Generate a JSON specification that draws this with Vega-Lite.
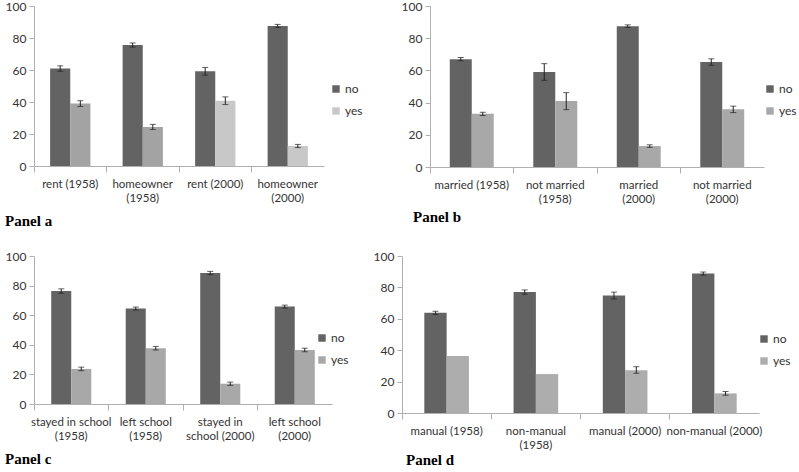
{
  "$schema": "https://vega.github.io/schema/vega-lite/v6.json",
  "padding": {"left": 5, "top": 0, "right": 0, "bottom": 0},
  "background": "white",
  "config": {
    "view": {"stroke": null},
    "font": "Lato",
    "axis": {"labelFont": "Lato", "labelFontSize": 11.5, "labelColor": "#333333", "domainColor": "#b0b0b0", "tickColor": "#b0b0b0", "grid": false, "title": null},
    "axisX": {"bandPosition": 0, "tickSize": 6, "labelAngle": 0, "labelPadding": 6, "labelLineHeight": 14, "labelLimit": 200},
    "axisY": {"values": [0, 20, 40, 60, 80, 100], "tickSize": 5, "labelPadding": 3, "labelFontSize": 12},
    "legend": {"labelFont": "Lato", "labelFontSize": 12, "labelColor": "#333333", "symbolType": "square", "symbolSize": 55, "symbolStrokeWidth": 0, "rowPadding": 10, "labelOffset": 3, "title": null, "orient": "none"},
    "title": {"font": "Liberation Serif", "fontSize": 15, "fontWeight": "bold", "color": "#000000", "orient": "bottom", "anchor": "start", "frame": "bounds"}
  },
  "datasets": {
    "a": [
      {"cat": "rent (1958)", "ans": "no", "v": 61, "lo": 59.2, "hi": 62.6},
      {"cat": "rent (1958)", "ans": "yes", "v": 39, "lo": 37.2, "hi": 40.8},
      {"cat": "homeowner (1958)", "ans": "no", "v": 75.6, "lo": 74.3, "hi": 76.9},
      {"cat": "homeowner (1958)", "ans": "yes", "v": 24.4, "lo": 22.8, "hi": 26},
      {"cat": "rent (2000)", "ans": "no", "v": 59.2, "lo": 56.8, "hi": 61.6},
      {"cat": "rent (2000)", "ans": "yes", "v": 40.8, "lo": 38.4, "hi": 43.2},
      {"cat": "homeowner (2000)", "ans": "no", "v": 87.5, "lo": 86.5, "hi": 88.5},
      {"cat": "homeowner (2000)", "ans": "yes", "v": 12.5, "lo": 11.5, "hi": 13.5}
    ],
    "b": [
      {"cat": "married (1958)", "ans": "no", "v": 67, "lo": 66, "hi": 68},
      {"cat": "married (1958)", "ans": "yes", "v": 33, "lo": 32, "hi": 34},
      {"cat": "not married (1958)", "ans": "no", "v": 59, "lo": 53.8, "hi": 64.2},
      {"cat": "not married (1958)", "ans": "yes", "v": 41, "lo": 35.6, "hi": 46.2},
      {"cat": "married (2000)", "ans": "no", "v": 87.5, "lo": 86.7, "hi": 88.3},
      {"cat": "married (2000)", "ans": "yes", "v": 13, "lo": 12.2, "hi": 13.8},
      {"cat": "not married (2000)", "ans": "no", "v": 65.2, "lo": 63.2, "hi": 67.2},
      {"cat": "not married (2000)", "ans": "yes", "v": 35.8, "lo": 33.8, "hi": 37.8}
    ],
    "c": [
      {"cat": "stayed in school (1958)", "ans": "no", "v": 76.3, "lo": 74.8, "hi": 77.8},
      {"cat": "stayed in school (1958)", "ans": "yes", "v": 23.7, "lo": 22.5, "hi": 24.9},
      {"cat": "left school (1958)", "ans": "no", "v": 64.5, "lo": 63.5, "hi": 65.5},
      {"cat": "left school (1958)", "ans": "yes", "v": 37.7, "lo": 36.5, "hi": 38.9},
      {"cat": "stayed in school (2000)", "ans": "no", "v": 88.5, "lo": 87.4, "hi": 89.6},
      {"cat": "stayed in school (2000)", "ans": "yes", "v": 13.7, "lo": 12.6, "hi": 14.8},
      {"cat": "left school (2000)", "ans": "no", "v": 65.8, "lo": 64.8, "hi": 66.8},
      {"cat": "left school (2000)", "ans": "yes", "v": 36.5, "lo": 35.3, "hi": 37.7}
    ],
    "d": [
      {"cat": "manual (1958)", "ans": "no", "v": 63.8, "lo": 62.8, "hi": 64.8},
      {"cat": "manual (1958)", "ans": "yes", "v": 36.3, "lo": null, "hi": null},
      {"cat": "non-manual (1958)", "ans": "no", "v": 77, "lo": 75.6, "hi": 78.4},
      {"cat": "non-manual (1958)", "ans": "yes", "v": 24.8, "lo": null, "hi": null},
      {"cat": "manual (2000)", "ans": "no", "v": 74.8, "lo": 72.6, "hi": 77},
      {"cat": "manual (2000)", "ans": "yes", "v": 27.3, "lo": 25.3, "hi": 29.5},
      {"cat": "non-manual (2000)", "ans": "no", "v": 88.8, "lo": 87.8, "hi": 89.8},
      {"cat": "non-manual (2000)", "ans": "yes", "v": 12.5, "lo": 11.3, "hi": 13.7}
    ]
  },
  "vconcat": [
    {
      "hconcat": [
        {
          "width": 290, "height": 160,
          "data": {"name": "a"},
          "title": {"text": "Panel a", "offset": 10},
          "encoding": {
            "x": {"field": "cat", "type": "nominal", "sort": null, "scale": {"paddingInner": 0, "paddingOuter": 0},
              "axis": {"labelExpr": "indexof(datum.label, 'homeowner') >= 0 ? split(replace(datum.label, ' (', '|('), '|') : datum.label"}},
            "xOffset": {"field": "ans", "type": "nominal", "scale": {"paddingInner": 0, "paddingOuter": 0.8}}
          },
          "layer": [
            {"mark": {"type": "bar"},
             "encoding": {
               "y": {"field": "v", "type": "quantitative", "scale": {"domain": [0, 100]}},
               "color": {
                 "condition": {"test": "datum.ans == 'yes' && indexof(datum.cat, '1958') >= 0", "value": "#a3a3a3"},
                 "field": "ans", "type": "nominal", "scale": {"domain": ["no", "yes"], "range": ["#636363", "#c8c8c8"]},
                 "legend": {"legendX": 296, "legendY": 77}}
             }},
            {"mark": {"type": "rule", "color": "#222222", "strokeWidth": 1}, "encoding": {"y": {"field": "lo", "type": "quantitative"}, "y2": {"field": "hi"}}},
            {"mark": {"type": "tick", "color": "#222222", "size": 6, "thickness": 1}, "encoding": {"y": {"field": "lo", "type": "quantitative"}}},
            {"mark": {"type": "tick", "color": "#222222", "size": 6, "thickness": 1}, "encoding": {"y": {"field": "hi", "type": "quantitative"}}}
          ]
        },
        {
          "width": 334, "height": 161,
          "data": {"name": "b"},
          "title": {"text": "Panel b", "offset": 5, "dx": 12},
          "encoding": {
            "x": {"field": "cat", "type": "nominal", "sort": null, "scale": {"paddingInner": 0, "paddingOuter": 0},
              "axis": {"labelExpr": "datum.label == 'married (1958)' ? datum.label : split(replace(datum.label, ' (', '|('), '|')"}},
            "xOffset": {"field": "ans", "type": "nominal", "scale": {"paddingInner": 0, "paddingOuter": 0.9}}
          },
          "layer": [
            {"mark": {"type": "bar"},
             "encoding": {
               "y": {"field": "v", "type": "quantitative", "scale": {"domain": [0, 100]}},
               "color": {"field": "ans", "type": "nominal", "scale": {"domain": ["no", "yes"], "range": ["#636363", "#a8a8a8"]},
                 "legend": {"legendX": 334, "legendY": 77}}
             }},
            {"mark": {"type": "rule", "color": "#222222", "strokeWidth": 1}, "encoding": {"y": {"field": "lo", "type": "quantitative"}, "y2": {"field": "hi"}}},
            {"mark": {"type": "tick", "color": "#222222", "size": 6, "thickness": 1}, "encoding": {"y": {"field": "lo", "type": "quantitative"}}},
            {"mark": {"type": "tick", "color": "#222222", "size": 6, "thickness": 1}, "encoding": {"y": {"field": "hi", "type": "quantitative"}}}
          ]
        }
      ],
      "spacing": 38,
      "resolve": {"scale": {"color": "independent", "x": "independent", "y": "independent", "xOffset": "independent"}}
    },
    {
      "hconcat": [
        {
          "width": 298, "height": 148,
          "data": {"name": "c"},
          "title": {"text": "Panel c", "offset": 10},
          "encoding": {
            "x": {"field": "cat", "type": "nominal", "sort": null, "scale": {"paddingInner": 0, "paddingOuter": 0},
              "axis": {"labelExpr": "datum.label == 'stayed in school (2000)' ? ['stayed in', 'school (2000)'] : split(replace(datum.label, ' (', '|('), '|')"}},
            "xOffset": {"field": "ans", "type": "nominal", "scale": {"paddingInner": 0, "paddingOuter": 0.86}}
          },
          "layer": [
            {"mark": {"type": "bar"},
             "encoding": {
               "y": {"field": "v", "type": "quantitative", "scale": {"domain": [0, 100]}},
               "color": {"field": "ans", "type": "nominal", "scale": {"domain": ["no", "yes"], "range": ["#636363", "#a8a8a8"]},
                 "legend": {"legendX": 282, "legendY": 76}}
             }},
            {"mark": {"type": "rule", "color": "#222222", "strokeWidth": 1}, "encoding": {"y": {"field": "lo", "type": "quantitative"}, "y2": {"field": "hi"}}},
            {"mark": {"type": "tick", "color": "#222222", "size": 6, "thickness": 1}, "encoding": {"y": {"field": "lo", "type": "quantitative"}}},
            {"mark": {"type": "tick", "color": "#222222", "size": 6, "thickness": 1}, "encoding": {"y": {"field": "hi", "type": "quantitative"}}}
          ]
        },
        {
          "width": 357, "height": 157,
          "data": {"name": "d"},
          "title": {"text": "Panel d", "offset": 2, "dx": 33},
          "encoding": {
            "x": {"field": "cat", "type": "nominal", "sort": null, "scale": {"paddingInner": 0, "paddingOuter": 0},
              "axis": {"labelExpr": "datum.label == 'non-manual (1958)' ? ['non-manual', '(1958)'] : datum.label"}},
            "xOffset": {"field": "ans", "type": "nominal", "scale": {"paddingInner": 0, "paddingOuter": 1.0}}
          },
          "layer": [
            {"mark": {"type": "bar"},
             "encoding": {
               "y": {"field": "v", "type": "quantitative", "scale": {"domain": [0, 100]}},
               "color": {"field": "ans", "type": "nominal", "scale": {"domain": ["no", "yes"], "range": ["#636363", "#adadad"]},
                 "legend": {"legendX": 356, "legendY": 77}}
             }},
            {"mark": {"type": "rule", "color": "#222222", "strokeWidth": 1}, "encoding": {"y": {"field": "lo", "type": "quantitative"}, "y2": {"field": "hi"}}},
            {"mark": {"type": "tick", "color": "#222222", "size": 6, "thickness": 1}, "encoding": {"y": {"field": "lo", "type": "quantitative"}}},
            {"mark": {"type": "tick", "color": "#222222", "size": 6, "thickness": 1}, "encoding": {"y": {"field": "hi", "type": "quantitative"}}}
          ]
        }
      ],
      "spacing": 24,
      "resolve": {"scale": {"color": "independent", "x": "independent", "y": "independent", "xOffset": "independent"}}
    }
  ],
  "spacing": 21,
  "resolve": {"scale": {"color": "independent", "x": "independent", "y": "independent", "xOffset": "independent"}}
}
